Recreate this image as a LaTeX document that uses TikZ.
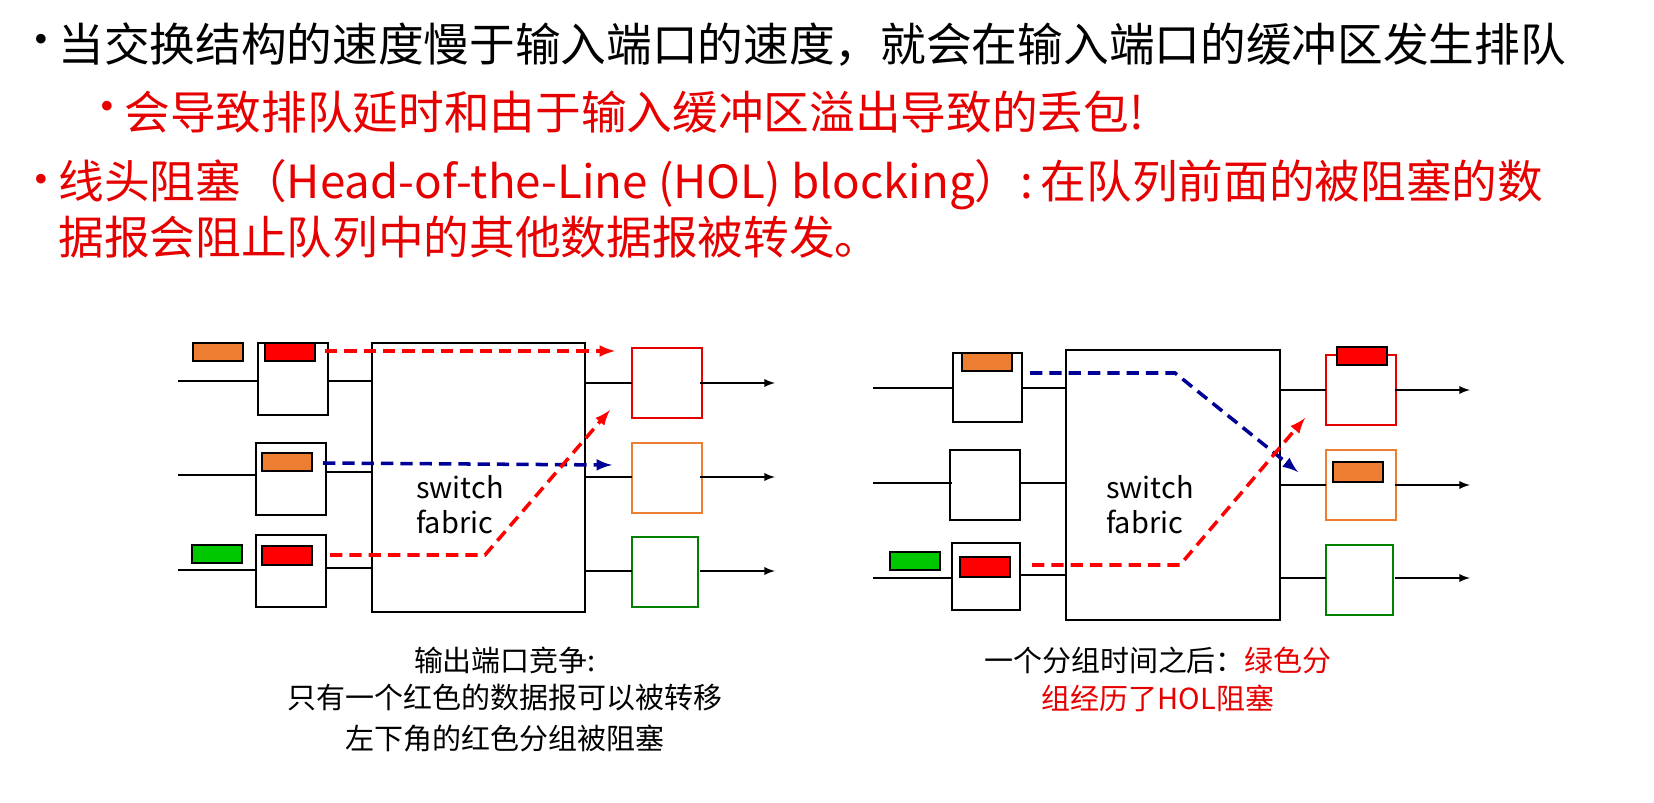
\documentclass[tikz,border=0pt]{standalone}
\usepackage{fontspec}
\setmainfont{Noto Sans CJK SC}
\begin{document}
\begin{tikzpicture}[x=0.02cm,y=-0.02cm,
 box/.style={draw=black,line width=0.9pt},
 pk/.style={draw=black,line width=0.6pt},
 ln/.style={line width=1.1pt},
 arr/.style={line width=1.1pt,-latex},
 dsh/.style={line width=2pt,dash pattern=on 7pt off 4pt,-latex},
 big/.style={font=\fontsize{26}{30}\selectfont,anchor=west,inner sep=0},
 captxt/.style={font=\fontsize{16.5}{20}\selectfont,inner sep=0}]
\definecolor{myred}{RGB}{230,0,0}
\definecolor{myor}{RGB}{237,125,49}
\definecolor{mygr}{RGB}{0,200,0}
\definecolor{mydg}{RGB}{0,128,0}
\definecolor{myblue}{RGB}{0,0,150}
% text
\node[big] (b1) at (18,45) {•};
\node[big] (t1) at (58,45) {当交换结构的速度慢于输入端口的速度，就会在输入端口的缓冲区发生排队};
\node[big,text=myred] (b2) at (84,112) {•};
\node[big,text=myred] (t2) at (124,112) {会导致排队延时和由于输入缓冲区溢出导致的丢包!};
\node[big,text=myred] (b3) at (18,185) {•};
\node[big,text=myred] (t3) at (58,185) {线头阻塞（Head-of-the-Line (HOL) blocking）:\,在队列前面的被阻塞的数};
\node[big,text=myred] (t4) at (58,237) {据报会阻止队列中的其他数据报被转发。};
% ---------- left
\foreach \n/\x/\y in {i1/258/343,i2/256/443,i3/256/535}{\draw[box] (\x,\y) rectangle ++(70,72) coordinate (\n);}
\node[box,minimum width=4.26cm,minimum height=5.38cm,inner sep=0] (fab) at (478.5,477.5) {};
\node[font=\fontsize{16.5}{20}\selectfont,align=left] (sf) at (460,505) {switch\\fabric};
\draw[box,draw=myred] (632,348) rectangle (702,418);
\draw[box,draw=myor] (632,443) rectangle (702,513);
\draw[box,draw=mydg] (632,537) rectangle (698,607);
\foreach \y in {381,475,570}{\draw[ln] (178,\y)--(257,\y);}
\foreach \y in {381,472,568}{\draw[ln] (327,\y)--(372,\y);}
\foreach \y in {383,477,571}{\draw[ln] (585,\y)--(632,\y); \draw[arr] (700,\y)--(775,\y);}
\draw[pk,fill=myor] (193,343) rectangle (243,361);
\draw[pk,fill=red] (265,343) rectangle (315,361);
\draw[pk,fill=myor] (262,453) rectangle (312,471);
\draw[pk,fill=mygr] (192,545) rectangle (242,563);
\draw[pk,fill=red] (262,546) rectangle (312,565);
\draw[dsh,red] (325,351)--(615,351);
\draw[dsh,myblue] (323,463)--(612,465);
\draw[dsh,red] (330,555)--(485,555)--(610,410);
\node[captxt] (c1) at (505,660) {输出端口竞争:};
\node[captxt] (c2) at (505,698) {只有一个红色的数据报可以被转移};
\node[captxt] (c3) at (505,738) {左下角的红色分组被阻塞};
% ---------- right
\draw[box] (953,353) rectangle (1022,422);
\draw[box] (950,450) rectangle (1020,520);
\draw[box] (952,543) rectangle (1020,610);
\node[box,minimum width=4.28cm,minimum height=5.4cm,inner sep=0] (fab2) at (1173,485) {};
\node[font=\fontsize{16.5}{20}\selectfont,align=left] (sf2) at (1150,505) {switch\\fabric};
\draw[box,draw=myred] (1326,355) rectangle (1396,425);
\draw[box,draw=myor] (1326,450) rectangle (1396,520);
\draw[box,draw=mydg] (1326,545) rectangle (1393,615);
\foreach \y in {388,483,578}{\draw[ln] (873,\y)--(952,\y);}
\foreach \y in {388,483,575}{\draw[ln] (1021,\y)--(1066,\y);}
\foreach \y in {390,485,578}{\draw[ln] (1280,\y)--(1326,\y); \draw[arr] (1395,\y)--(1470,\y);}
\draw[pk,fill=red] (1337,347) rectangle (1387,365);
\draw[pk,fill=myor] (1333,462) rectangle (1383,482);
\draw[pk,fill=myor] (962,353) rectangle (1012,371);
\draw[pk,fill=mygr] (890,552) rectangle (940,570);
\draw[pk,fill=red] (960,557) rectangle (1010,577);
\draw[dsh,myblue] (1030,373)--(1175,373)--(1298,472);
\draw[dsh,red] (1032,565)--(1180,565)--(1305,418);
\node[captxt] (c4) at (1158,660) {一个分组时间之后：\textcolor{myred}{绿色分}};
\node[captxt,text=myred] (c5) at (1158,698) {组经历了HOL阻塞};
\pgfresetboundingbox
\useasboundingbox (0,0) rectangle (1654,803);
\end{tikzpicture}
\end{document}
